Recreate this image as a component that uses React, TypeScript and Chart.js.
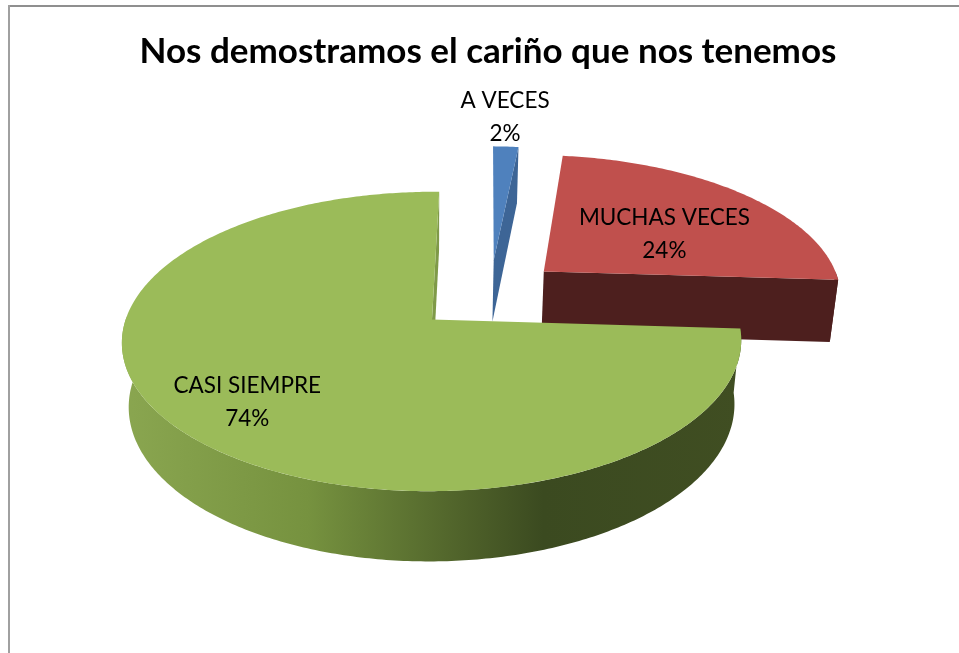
import React, { useEffect, useRef } from "react";
import { Chart, registerables } from "chart.js";

Chart.register(...registerables);

const titleText = "Nos demostramos el cariño que nos tenemos";
const categories = ["A VECES", "MUCHAS VECES", "CASI SIEMPRE"];
const percentages = [1.6, 24.1, 74.3];
const topColors = ["#4F81BD", "#C0504D", "#9BBB59"];
const wallColors = ["#3D6596", "#4D1F1E", "#7F9A48"];
const explodeX = [0.21, 0.38, 0];
const explodeY = [-0.43, -0.3434, 0];
const labelRadius = [1.3, 0.53, 0.76];
const labelTurn = [-0.012, 0.115, -0.012];

const FONT = "Lato, 'Open Sans', sans-serif";
const VIEW = { shiftX: -56, F: 1.258, G: 0.6016, H: 0.268, T: 0.1467, Q: 0.022, S: 0.02, rotateDeg: 1 };

const pie3d = {
  id: "pie3d",
  beforeDatasetsDraw(chart: any) {
    const ctx = chart.ctx;
    const arcs = chart.getDatasetMeta(0).data;
    const project = (el: any, i: number, r: number, th: number, z: number) => {
      const x = explodeX[i] + r * Math.cos(th);
      const y = explodeY[i] + r * Math.sin(th);
      const w = 1 - VIEW.T * y + VIEW.Q * z;
      const R = el.outerRadius;
      const sy = (VIEW.G * R * y + VIEW.H * R * z) / w;
      const sx = (VIEW.F * R * x - VIEW.S * VIEW.G * R * y) / w;
      return [el.x + VIEW.shiftX + sx, el.y + sy];
    };
    const poly = (pts: number[][], fill: any) => {
      ctx.beginPath();
      pts.forEach((p, k) => (k ? ctx.lineTo(p[0], p[1]) : ctx.moveTo(p[0], p[1])));
      ctx.closePath();
      ctx.fillStyle = fill;
      ctx.fill();
    };
    const arcPts = (el: any, i: number, a: number, b: number, z: number) => {
      const n = Math.max(2, Math.ceil(Math.abs(b - a) * 80));
      const out: number[][] = [];
      for (let k = 0; k <= n; k++) out.push(project(el, i, 1, a + ((b - a) * k) / n, z));
      return out;
    };
    arcs.forEach((el: any, i: number) => {
      const a = el.startAngle;
      const b = el.endAngle;
      const R = el.outerRadius;
      // curved rim, only the half that faces the viewer
      const from = Math.max(a, 0);
      const to = Math.min(b, Math.PI + 0.02);
      if (to > from) {
        const half = 1.0109 * VIEW.F * R;
        const cx = el.x + VIEW.shiftX;
        let fill: any = wallColors[i];
        if (i === 2) {
          const g = ctx.createLinearGradient(cx - half, 0, cx + half, 0);
          g.addColorStop(0, "#8AA650");
          g.addColorStop(0.3, "#76923F");
          g.addColorStop(0.55, "#4F622A");
          g.addColorStop(0.68, "#3B4A20");
          g.addColorStop(1, "#404E22");
          fill = g;
        }
        poly([...arcPts(el, i, from, to, 0), ...arcPts(el, i, from, to, 1).reverse()], fill);
      }
      // cut wall at the closing edge of the slice
      poly(
        [project(el, i, 0, b, 0), project(el, i, 1, b, 0), project(el, i, 1, b, 1), project(el, i, 0, b, 1)],
        wallColors[i]
      );
      // top face
      poly([project(el, i, 0, a, 0), ...arcPts(el, i, a, b, 0)], topColors[i]);
    });
    // labels
    ctx.fillStyle = "#000";
    ctx.font = `22.5px ${FONT}`;
    ctx.textAlign = "center";
    ctx.textBaseline = "middle";
    arcs.forEach((el: any, i: number) => {
      const mid = (el.startAngle + el.endAngle) / 2 + labelTurn[i];
      const p = project(el, i, labelRadius[i], mid, 0);
      ctx.fillText(categories[i], p[0], p[1] - 16.5);
      ctx.fillText(`${Math.round(percentages[i])}%`, p[0], p[1] + 16.5);
    });
    return false;
  },
  beforeDraw(chart: any) {
    const ctx = chart.ctx;
    ctx.save();
    ctx.fillStyle = "#FFFFFF";
    ctx.fillRect(0, 0, chart.width, chart.height);
    ctx.fillStyle = "#8F8F8F";
    ctx.fillRect(8, 5, chart.width - 8, 2);
    ctx.fillStyle = "#A0A0A0";
    ctx.fillRect(8, 5, 2, chart.height - 5);
    ctx.restore();
  },
};

export default function App() {
  const ref = useRef<HTMLCanvasElement>(null);
  useEffect(() => {
    const chart = new Chart(ref.current as HTMLCanvasElement, {
      type: "pie",
      data: {
        labels: categories,
        datasets: [{ data: percentages, backgroundColor: topColors, borderWidth: 0 }],
      },
      plugins: [pie3d],
      options: {
        responsive: false,
        animation: false,
        rotation: VIEW.rotateDeg,
        layout: { padding: { left: 17, bottom: 90 } },
        plugins: {
          legend: { display: false },
          tooltip: { enabled: false },
          title: {
            display: true,
            text: titleText,
            color: "#000",
            font: { family: FONT, size: 35, weight: "bold" },
            padding: { top: 31, bottom: 3 },
          },
        },
      },
    } as any);
    return () => chart.destroy();
  }, []);
  return (
    <div style={{ position: "fixed", left: 0, top: 0, width: 959, height: 653 }}>
      <canvas ref={ref} width={959} height={653} style={{ display: "block" }} />
    </div>
  );
}
